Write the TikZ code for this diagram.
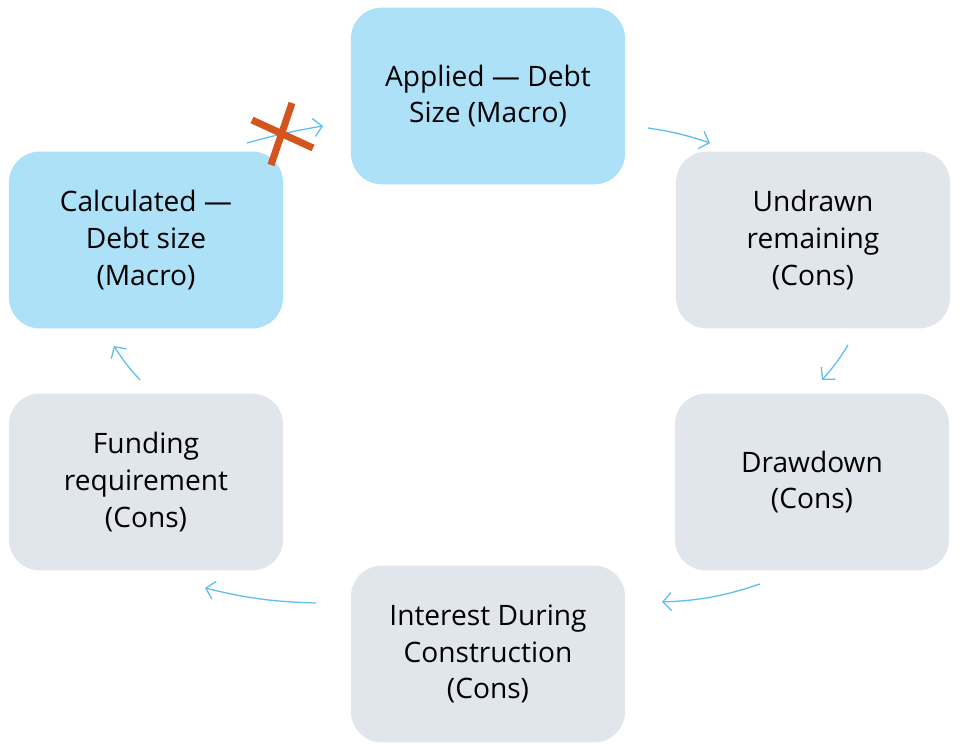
\documentclass[tikz,border=0pt]{standalone}
\usepackage{fontspec}
\setmainfont{Open Sans}
\usetikzlibrary{arrows.meta}
\definecolor{macroblue}{HTML}{ADE1F8}
\definecolor{consgray}{HTML}{E1E6EC}
\definecolor{flowblue}{HTML}{5BBDF0}
\definecolor{crossred}{HTML}{D3541F}
\tikzset{
  box/.style={rounded corners=22pt, minimum width=6.85cm, minimum height=4.42cm,
    align=center, font=\fontsize{20}{26}\selectfont, inner sep=0pt},
  macro/.style={box, fill=macroblue},
  cons/.style={box, fill=consgray},
  flow/.style={draw=flowblue, line width=0.9pt, -{Straight Barb[length=6pt,width=13pt]}},
}
\begin{document}
\begin{tikzpicture}[x=0.025cm, y=-0.025cm]
\useasboundingbox (0,0) rectangle (960,754);
\node [macro] (applied) at (488,96)  {Applied --- Debt\\Size (Macro)};
\node [cons]  (undrawn) at (813,240) {Undrawn\\remaining\\(Cons)};
\node [cons]  (drawdown) at (812,482) {Drawdown\\(Cons)};
\node [cons]  (idc) at (488,654) {Interest During\\Construction\\(Cons)};
\node [cons]  (funding) at (146,482) {Funding\\requirement\\(Cons)};
\node [macro] (calc) at (146,240) {Calculated ---\\Debt size\\(Macro)};

%%%%%%%%%%%%%%%%%%%%%%%%%%%%%%%%%%%%%%%%

\path (648,128) coordinate (a1) (710,143) coordinate (a2)
      (848,345) coordinate (b1) (822,380) coordinate (b2)
      (760,584) coordinate (c1) (662,602) coordinate (c2)
      (316,603) coordinate (d1) (205,588) coordinate (d2)
      (140,380) coordinate (e1) (114,346) coordinate (e2)
      (247,143) coordinate (f1) (323,126) coordinate (f2);
\draw [flow] (a1) to[bend left=5] (a2);
\draw [flow] (b1) to[bend left=5] (b2);
\draw [flow] (c1) to[bend left=8] (c2);
\draw [flow] (d1) to[bend left=6] (d2);
\draw [flow] (e1) to[bend left=5] (e2);
\draw [flow] (f1) to[bend left=3] (f2);

\draw [crossred, line width=5pt]
  (252,120) coordinate (x1) -- (313,148) coordinate (x2)
  (292,103) coordinate (x3) -- (271,165) coordinate (x4);
\end{tikzpicture}
\end{document}
